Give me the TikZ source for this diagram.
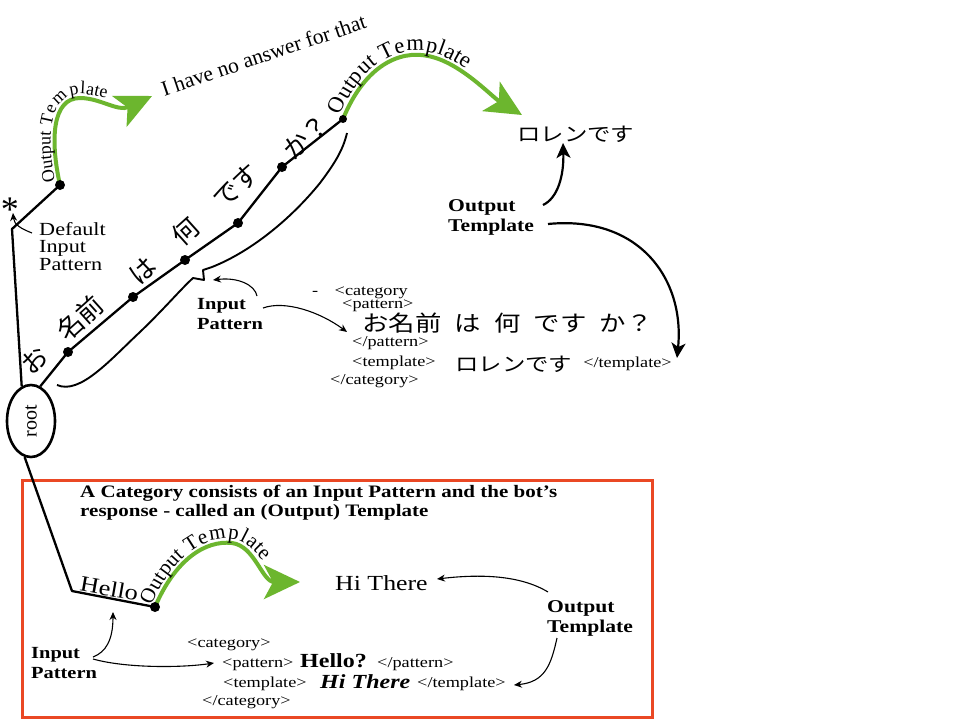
\documentclass[tikz,border=0pt]{standalone}
\usepackage{fontspec}
\setmainfont{Liberation Serif}
\newfontfamily\jp{Noto Sans CJK JP}
\usetikzlibrary{arrows.meta,decorations.text,shapes.geometric}
\definecolor{ogreen}{RGB}{108,182,46}
\definecolor{boxred}{RGB}{234,72,36}
\newcommand\fsz[2]{\fontsize{#1}{#2}\selectfont}
\begin{document}
\begin{tikzpicture}[x=1pt,y=-1pt,
  dot/.style={circle,fill=black,inner sep=0pt,minimum size=10pt},
  tree/.style={line width=2.3pt, line join=round},
  garrow/.style={draw=ogreen, line width=4pt, -{Stealth[length=36pt,width=34pt,inset=9pt]}},
  gtext/.style={decorate, decoration={text along path, raise=4pt}},
  larrow/.style={line width=1.1pt, -{Stealth[length=8pt,width=7pt]}},
  barrow/.style={line width=2.2pt, -{Stealth[length=15pt,width=14pt,inset=4pt]}},
  txt/.style={inner sep=0pt, xscale=1.2},
  tag/.style={txt, anchor=base west, font=\fsz{15.2}{15.2}},
  jpc/.style={inner sep=0pt, rotate=42, font=\jp\fsz{26}{26}},
  lbl/.style={txt, anchor=north west, align=left, font=\bfseries\fsz{17.5}{20}},
]
\useasboundingbox (0,0) rectangle (960,720);
\fill[white] (0,0) rectangle (960,720);

% category box
\draw[boxred, line width=3pt] (22,480) rectangle (652,717);

% coordinates of the tree
\coordinate (p1) at (68,352);
\coordinate (p2) at (133,297);
\coordinate (p3) at (185,260);
\coordinate (p4) at (238,223);
\coordinate (p5) at (282,167);
\coordinate (p6) at (343,119);
\coordinate (ps) at (60,185);
\coordinate (ph) at (155,607);
\coordinate (cstar) at (12,229);
\coordinate (chello) at (72,591);
\coordinate (t1) at (152,96);
\coordinate (t2) at (522,115);
\coordinate (t3) at (300,582);

% root
\node[ellipse, draw, line width=2.6pt, minimum width=48pt, minimum height=72pt, inner sep=0pt] (root) at (31,421) {};
\node[rotate=90, font=\fsz{20}{20}, inner sep=0pt] (rootlbl) at (root.center) {root};

\draw[tree] (root.105) -- (cstar) -- (ps);
\draw[tree] (root.75) -- (p1) -- (p2) -- (p3) -- (p4) -- (p5) -- (p6);
\draw[tree] (root.-100) -- (chello) -- (ph);

% bracket under the pattern
\draw[line width=1.9pt, line join=round] (57,385) .. controls (80,395) and (110,360) .. (140,332)
  .. controls (165,308) and (180,290) .. (193,278) -- (204,280) -- (203,270) -- (212,267)
  .. controls (250,252) and (290,220) .. (320,183) .. controls (335,163) and (343,150) .. (347,133);

% green output-template arrows
\draw[garrow] (ps) .. controls (50,140) and (52,98) .. (80,98) .. controls (100,98) and (118,112) .. (t1);
\path[gtext, decoration={text={|\fsz{18}{18}|Output Template}, text align={left indent=4pt}}]
  (ps) .. controls (50,140) and (52,98) .. (80,98) .. controls (100,98) and (118,112) .. (t1);

\draw[garrow] (p6) .. controls (365,65) and (400,50) .. (428,56) .. controls (460,62) and (492,97) .. (t2);
\path[gtext, decoration={text={|\fsz{22.5}{22.5}|Output Template}, text align={left indent=2pt}}]
  (p6) .. controls (365,65) and (400,50) .. (428,56) .. controls (460,62) and (492,97) .. (t2);

\draw[garrow] (ph) .. controls (175,560) and (205,540) .. (232,543) .. controls (255,546) and (262,582) .. (t3);
\path[gtext, decoration={text={|\fsz{21}{21}|Output Template}, text align={left indent=0pt}}]
  (ph) .. controls (175,560) and (205,540) .. (232,543) .. controls (255,546) and (262,582) .. (t3);

% dots
\node[dot] (d1) at (p1) {};
\node[dot] (d2) at (p2) {};
\node[dot] (d3) at (p3) {};
\node[dot] (d4) at (p4) {};
\node[dot] (d5) at (p5) {};
\node[dot, minimum size=8pt] (d6) at (p6) {};
\node[dot] (ds) at (ps) {};
\node[dot] (dh) at (ph) {};

% japanese along the path
\node[jpc] (j1) at (34,360) {お};
\node[jpc] (j2) at (80,318) {名前};
\node[jpc] (j3) at (143,271) {は};
\node[jpc] (j4) at (186,231) {何};
\node[jpc] (j5) at (236,186) {です};
\node[jpc] (j6) at (306,137) {か？};

% default pattern
\node[font=\fsz{36}{36}, inner sep=0pt] (star) at (10,210) {*};
\node[txt, anchor=north west, align=left, font=\fsz{18.5}{17.5}] (deflbl) at (39,222) {Default\\Input\\Pattern};
\coordinate (das) at (32,233);
\coordinate (dat) at (13,213);
\draw[larrow] (das) .. controls (22,229) and (14,225) .. (dat);

\node[rotate=18.6, anchor=base, font=\fsz{21.5}{21.5}, inner sep=0pt] (noans) at (266,62) {I have no answer for that};

% top right
\node[txt, anchor=base west, font=\jp\fsz{19.5}{19.5}] (jans1) at (517,141) {ロレンです};
\node[lbl, font=\bfseries\fsz{18}{20}] (ot1) at (448,199) {Output\\Template};
\coordinate (a4s) at (543,205);
\coordinate (a4e) at (563,143);
\coordinate (a5s) at (548,224);
\coordinate (a5e) at (677,358);
\draw[barrow] (a4s) .. controls (558,198) and (564,175) .. (a4e);
\draw[barrow] (a5s) .. controls (640,215) and (685,280) .. (a5e);

% middle input pattern
\node[lbl, font=\bfseries\fsz{17}{20}] (ip1) at (197,298) {Input\\Pattern};
\coordinate (a2s) at (257,296);
\coordinate (a2e) at (213,280);
\coordinate (a3s) at (263,308);
\coordinate (a3e) at (347,332);
\draw[larrow] (a2s) .. controls (255,285) and (238,277) .. (a2e);
\draw[larrow] (a3s) .. controls (285,300) and (320,312) .. (a3e);

% middle xml
\node[tag] (mcat) at (312,295) {-\hspace{0.9em}<category};
\node[tag] (mpat) at (342,308) {<pattern>};
\node[txt, anchor=base west, font=\jp\fsz{22}{22}] (mjq) at (362,331) {お名前\hspace{.5em}は\hspace{.5em}何\hspace{.5em}です\hspace{.5em}か？};
\node[tag] (mpatc) at (352,346) {</pattern>};
\node[tag] (mtpl) at (352,366) {<template>};
\node[txt, anchor=base west, font=\jp\fsz{19.5}{19.5}] (mjans) at (455,371) {ロレンです};
\node[tag] (mtplc) at (583,367) {</template>};
\node[tag] (mcatc) at (330,384) {</category>};

% box contents
\node[lbl, font=\bfseries\fsz{17.5}{19}] (head) at (80,485) {A Category consists of an Input Pattern and the bot's\\response - called an (Output) Template};
\node[rotate=-10, xscale=1.2, anchor=base, font=\fsz{22}{22}, inner sep=0pt] (hello) at (108,596) {Hello};
\node[txt, anchor=base west, font=\fsz{21.5}{21.5}] (hi) at (335,590) {Hi There};
\node[lbl, font=\bfseries\fsz{18}{20}] (ot2) at (547,600) {Output\\Template};
\node[lbl, font=\bfseries\fsz{17}{20}] (ip2) at (31,647) {Input\\Pattern};

\coordinate (b1s) at (93,657);
\coordinate (b1e) at (113,612);
\coordinate (b2s) at (93,659);
\coordinate (b2e) at (214,663);
\coordinate (b3s) at (548,592);
\coordinate (b3e) at (437,579);
\coordinate (b4s) at (557,638);
\coordinate (b4e) at (514,685);
\draw[larrow] (b1s) .. controls (106,652) and (113,640) .. (b1e);
\draw[larrow] (b2s) .. controls (125,668) and (180,668) .. (b2e);
\draw[larrow] (b3s) .. controls (520,575) and (480,574) .. (b3e);
\draw[larrow] (b4s) .. controls (551,665) and (545,682) .. (b4e);

\node[tag] (bcat) at (187,647) {<category>};
\node[tag] (bpat) at (222,667) {<pattern>};
\node[txt, anchor=base west, font=\bfseries\fsz{20}{20}] (bhello) at (300,667) {Hello?};
\node[tag] (bpatc) at (377,667) {</pattern>};
\node[tag] (btpl) at (223,687) {<template>};
\node[txt, anchor=base west, font=\bfseries\itshape\fsz{20}{20}] (bhi) at (320,688) {Hi There};
\node[tag] (btplc) at (417,687) {</template>};
\node[tag] (bcatc) at (202,705) {</category>};
\end{tikzpicture}
\end{document}
